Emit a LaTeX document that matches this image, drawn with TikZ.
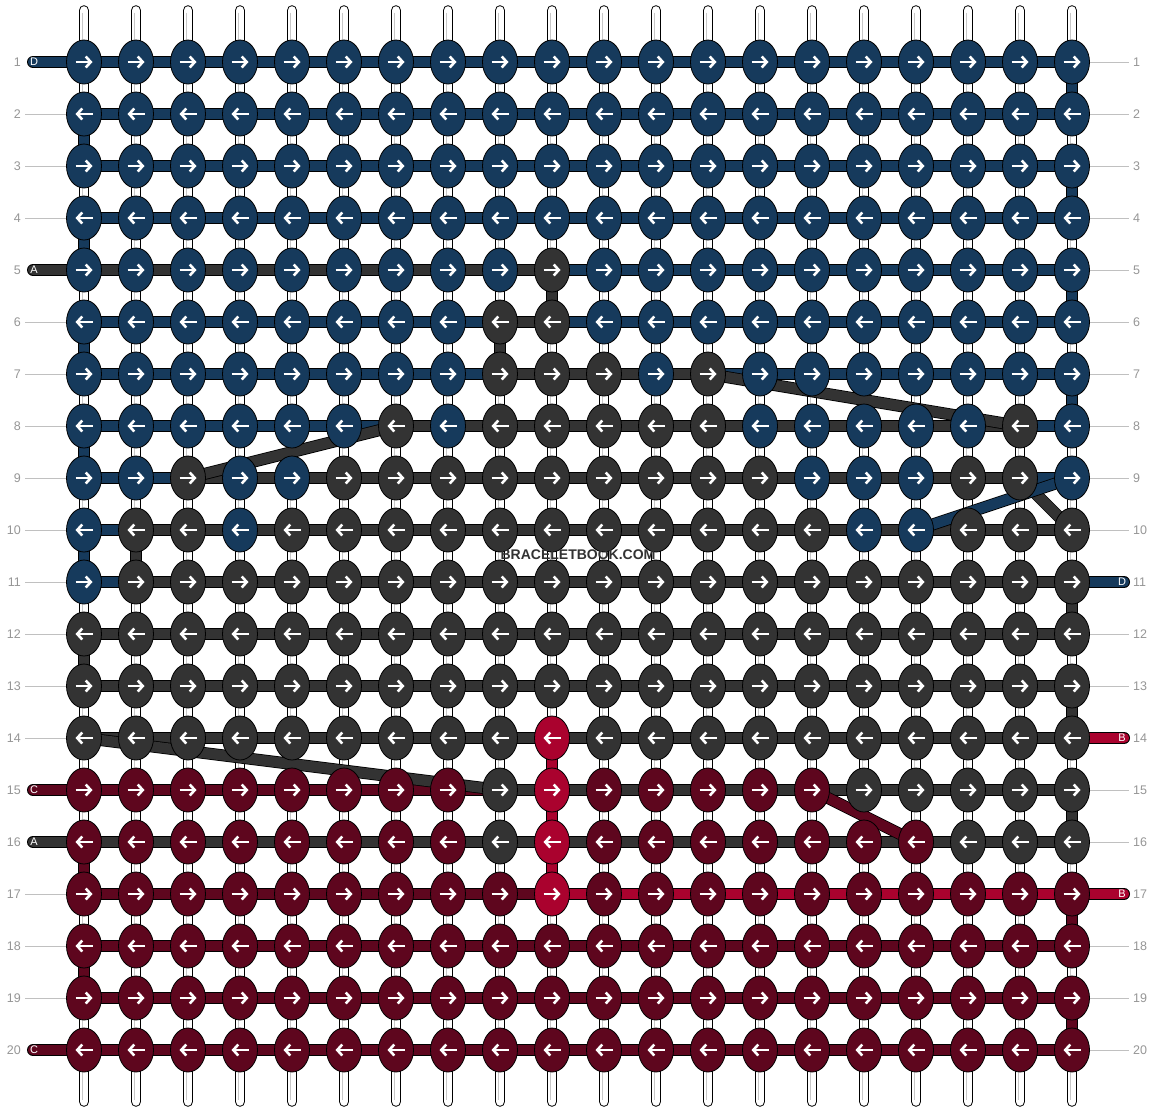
\documentclass[tikz,border=0pt]{standalone}
\usepackage{fontspec}
\setmainfont{Liberation Sans}
\usetikzlibrary{arrows.meta,shapes.geometric}

\definecolor{bl}{RGB}{22,58,92}
\definecolor{gy}{RGB}{51,51,51}
\definecolor{dr}{RGB}{94,6,30}
\definecolor{br}{RGB}{170,2,46}
\definecolor{numgray}{RGB}{150,150,150}
\definecolor{linegray}{RGB}{192,192,192}

\pgfdeclarelayer{strings}
\pgfdeclarelayer{threads}
\pgfsetlayers{strings,threads,main}

\tikzset{
  arr/.style={white, line width=2.6pt, -{Straight Barb[length=5pt,width=11pt]}},
  knot/.style={ellipse, draw=black, line width=0.8pt, minimum width=35pt, minimum height=44pt, inner sep=0pt,
    path picture={\draw[arr] ([xshift={-8.5*(#1)}]path picture bounding box.center) -- ([xshift={8.5*(#1)}]path picture bounding box.center);}},
  strand/.style={draw=black, line width=0.8pt, double=#1, double distance=10.4pt},
  wstring/.style={draw=black, line width=1pt, double=white, double distance=8.6pt, line cap=round},
  rownum/.style={text=numgray, font=\fontsize{12.5}{13}\selectfont, inner sep=2pt},
  rowline/.style={draw=linegray, line width=0.8pt},
  tag/.style={text=white, font=\fontsize{11}{11}\selectfont, inner sep=0pt},
  wmtext/.style={font=\fontsize{14}{15}\selectfont\bfseries, inner sep=0pt}
}

\begin{document}
\begin{tikzpicture}[x=1pt,y=-1pt]
  \useasboundingbox (0,0) rectangle (1156,1112);
  \begin{pgfonlayer}{strings}
    \fill[white] (0,0) rectangle (1156,1112);
  \end{pgfonlayer}

  %knots, row/first/last/colour
  \foreach \j/\a/\b/\c in {1/1/20/bl, 2/1/20/bl, 3/1/20/bl, 4/1/20/bl,
      5/1/9/bl, 5/10/10/gy, 5/11/20/bl,
      6/1/8/bl, 6/9/10/gy, 6/11/20/bl,
      7/1/8/bl, 7/9/11/gy, 7/12/12/bl, 7/13/13/gy, 7/14/20/bl,
      8/1/6/bl, 8/7/7/gy, 8/8/8/bl, 8/9/13/gy, 8/14/18/bl, 8/19/19/gy, 8/20/20/bl,
      9/1/2/bl, 9/3/3/gy, 9/4/5/bl, 9/6/14/gy, 9/15/17/bl, 9/18/19/gy, 9/20/20/bl,
      10/1/1/bl, 10/2/3/gy, 10/4/4/bl, 10/5/15/gy, 10/16/17/bl, 10/18/20/gy,
      11/1/1/bl, 11/2/20/gy, 12/1/20/gy, 13/1/20/gy,
      14/1/9/gy, 14/10/10/br, 14/11/20/gy,
      15/1/8/dr, 15/9/9/gy, 15/10/10/br, 15/11/15/dr, 15/16/20/gy,
      16/1/8/dr, 16/9/9/gy, 16/10/10/br, 16/11/17/dr, 16/18/20/gy,
      17/1/9/dr, 17/10/10/br, 17/11/20/dr,
      18/1/20/dr, 19/1/20/dr, 20/1/20/dr} {
    \pgfmathtruncatemacro\s{2*mod(\j,2)-1}
    \foreach \i in {\a,...,\b} \node[knot=\s, fill=\c] (k-\i-\j) at ({32+52*\i},{10+52*\j}) {};
  }

  %strings
  \begin{pgfonlayer}{strings}
    \foreach \i in {1,...,20} {
      \coordinate (st-\i) at ({32+52*\i},10.5);
      \coordinate (sb-\i) at ({32+52*\i},1101.5);
      \draw[wstring] (st-\i) -- (sb-\i);
      \draw[line width=0.8pt, black!22] ([xshift=-1.5pt,yshift=-2pt]st-\i) -- ([xshift=-1.5pt,yshift=2pt]sb-\i);
    }
  \end{pgfonlayer}

  \begin{pgfonlayer}{threads}
    %rows
    \foreach \j/\a/\b/\c in {1/1/20/bl, 2/1/20/bl, 3/1/20/bl, 4/1/20/bl,
        5/1/10/gy, 5/10/20/bl, 6/1/9/bl, 6/9/10/gy, 6/10/20/bl,
        7/1/9/bl, 7/9/13/gy, 7/13/20/bl, 8/1/7/bl, 8/7/19/gy, 8/19/20/bl,
        9/1/3/bl, 9/3/19/gy, 9/19/20/bl, 10/1/2/bl, 10/2/20/gy,
        11/1/2/bl, 11/2/20/gy, 12/1/20/gy, 13/1/20/gy, 14/1/20/gy,
        15/1/9/dr, 15/9/20/gy, 16/1/20/gy, 17/1/10/dr, 17/10/20/br,
        18/1/20/dr, 19/1/20/dr, 20/1/20/dr}
      \draw[strand=\c] (k-\a-\j.center) -- (k-\b-\j.center);
    %turns
    \foreach \i/\j/\c in {20/1/bl, 20/3/bl, 20/5/bl, 20/7/bl, 20/11/gy, 20/13/gy, 20/15/gy, 20/17/dr, 20/19/dr,
        1/2/bl, 1/4/bl, 1/6/bl, 1/8/bl, 1/10/bl, 1/12/gy, 1/16/dr, 1/18/dr,
        10/5/gy, 9/6/gy, 2/10/gy, 10/14/br, 10/15/br, 10/16/br} {
      \pgfmathtruncatemacro\jn{\j+1}
      \draw[strand=\c] (k-\i-\j.center) -- (k-\i-\jn.center);
    }
    %crossings
    \draw[strand=gy] (k-13-7.center) -- (k-19-8.center);
    \draw[strand=gy] (k-7-8.center) -- (k-3-9.center);
    \draw[strand=gy] (k-19-9.center) -- (k-20-10.center);
    \draw[strand=bl] (k-20-9.center) -- (k-17-10.center);
    \draw[strand=gy] (k-1-14.center) -- (k-9-15.center);
    \draw[strand=dr] (k-15-15.center) -- (k-17-16.center);
    %loose ends
    \foreach \j/\t/\c in {1/D/bl, 5/A/gy, 15/C/dr, 16/A/gy, 20/C/dr} {
      \coordinate (pl-\j) at (33,{10+52*\j});
      \draw[strand=\c, line cap=round] (pl-\j) -- (k-1-\j.center);
    }
    \foreach \j/\t/\c in {11/D/bl, 14/B/br, 17/B/br} {
      \coordinate (pr-\j) at (1124,{10+52*\j});
      \draw[strand=\c, line cap=round] (k-20-\j.center) -- (pr-\j);
    }
  \end{pgfonlayer}
  \foreach \j/\t in {1/D, 5/A, 15/C, 16/A, 20/C} \node[tag] (tl-\j) at (34,{10+52*\j}) {\t};
  \foreach \j/\t in {11/D, 14/B, 17/B} \node[tag] (tr-\j) at (1122,{10+52*\j}) {\t};

  %row numbers
  \foreach \j in {1,...,20} {
    \node[rownum, anchor=east] (nl-\j) at (23,{10+52*\j}) {\j};
    \node[rownum, anchor=west] (nr-\j) at (1131,{10+52*\j}) {\j};
  }
  \foreach \j in {2,3,4,6,7,8,9,10,11,12,13,14,17,18,19} \draw[rowline, shorten <=2pt] (nl-\j) -- (k-1-\j);
  \foreach \j in {1,2,3,4,5,6,7,8,9,10,12,13,15,16,18,19,20} \draw[rowline, shorten >=2pt] (k-20-\j) -- (nr-\j);

  %watermark
  \node[wmtext, text=gy] (wm) at (578,555) {BRACELETBOOK.COM};
\end{tikzpicture}
\end{document}
